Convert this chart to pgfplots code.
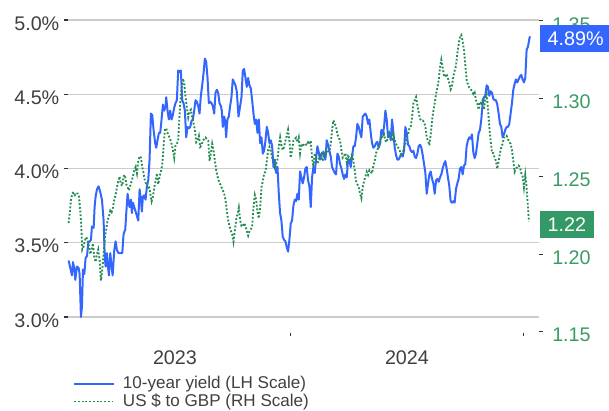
\documentclass[border=0pt]{standalone}
\usepackage{fontspec}
\setmainfont{Liberation Sans}
\usepackage{pgfplots}
\pgfplotsset{compat=1.18}
\usepackage{pgfplotstable}

\definecolor{yieldblue}{RGB}{51,102,255}
\definecolor{gbpgreen}{RGB}{38,140,84}
\definecolor{boxgreen}{RGB}{51,153,102}
\definecolor{labelgreen}{RGB}{60,155,100}
\definecolor{txt}{RGB}{64,64,64}

\newcommand{\tickfont}{\fontsize{14.8}{17}\selectfont}
\newcommand{\legfont}{\fontsize{12.8}{14}\selectfont}

% x = days since 1 Jan 2023
\pgfplotstableread{
d v
15.0 3.38
17.6 3.33
20.3 3.28
21.8 3.37
23.9 3.33
25.5 3.25
28.1 3.34
30.8 3.33
32.3 3.29
34.4 3.00
36.0 3.07
37.6 3.32
39.7 3.29
41.8 3.40
43.9 3.41
46.0 3.50
48.1 3.51
50.2 3.52
51.7 3.61
54.4 3.60
55.9 3.74
57.5 3.81
59.6 3.86
62.2 3.88
64.9 3.84
67.5 3.79
70.1 3.65
71.7 3.43
73.2 3.34
75.3 3.43
76.9 3.34
78.5 3.28
80.6 3.43
82.2 3.36
84.3 3.28
86.9 3.45
89.0 3.51
91.1 3.45
93.7 3.43
96.3 3.43
99.5 3.43
101.6 3.56
104.2 3.59
105.8 3.70
107.9 3.83
109.4 3.78
111.0 3.74
113.1 3.79
114.7 3.70
116.3 3.77
118.4 3.74
120.5 3.71
122.6 3.68
124.7 3.65
126.8 3.86
128.9 3.79
130.4 3.71
132.0 3.81
134.1 3.82
136.2 3.79
138.3 3.88
140.4 3.92
142.5 4.06
144.6 4.37
146.7 4.36
148.8 4.26
151.4 4.17
153.0 4.14
155.1 4.19
157.2 4.24
159.3 4.24
161.4 4.33
163.5 4.43
165.6 4.39
167.7 4.42
168.7 4.48
170.8 4.39
172.9 4.33
175.0 4.39
177.1 4.33
179.2 4.36
181.3 4.41
183.4 4.44
185.5 4.46
187.6 4.66
189.7 4.65
191.8 4.66
193.9 4.46
196.0 4.44
198.1 4.39
200.2 4.21
202.3 4.28
204.4 4.27
206.5 4.28
208.6 4.32
210.7 4.33
212.8 4.39
214.9 4.46
217.0 4.45
219.1 4.42
221.2 4.37
223.3 4.49
225.4 4.56
227.5 4.64
229.6 4.74
231.7 4.72
233.8 4.61
235.9 4.44
238.0 4.45
240.1 4.44
242.2 4.42
244.3 4.37
246.4 4.51
248.5 4.53
250.6 4.51
252.7 4.44
254.8 4.42
256.3 4.39
257.9 4.28
260.0 4.35
261.6 4.32
263.1 4.21
265.2 4.33
267.3 4.35
269.4 4.42
271.5 4.48
273.6 4.60
275.7 4.58
277.8 4.56
279.9 4.52
282.6 4.35
285.2 4.42
287.3 4.48
289.4 4.66
291.5 4.67
293.6 4.61
295.7 4.55
297.8 4.61
299.9 4.56
302.0 4.54
304.1 4.46
306.2 4.37
308.3 4.30
310.4 4.33
312.5 4.24
314.6 4.33
316.7 4.17
318.8 4.21
320.9 4.10
323.0 4.12
325.1 4.19
327.2 4.28
329.3 4.24
331.4 4.17
333.5 4.19
335.6 4.15
337.7 4.01
339.8 4.06
341.9 3.97
344.0 4.01
346.1 3.83
348.1 3.70
350.2 3.65
352.3 3.54
354.4 3.52
356.5 3.51
358.6 3.47
360.7 3.44
362.8 3.52
364.9 3.63
367.0 3.65
369.1 3.75
371.2 3.79
373.3 3.78
375.4 3.83
377.5 3.79
379.6 3.98
381.7 3.94
383.8 3.90
385.9 3.94
388.0 4.00
390.1 4.01
392.2 3.92
394.3 3.88
396.4 3.74
398.5 3.94
400.6 4.01
402.7 3.97
404.8 4.07
406.9 4.15
409.0 4.11
411.1 4.06
413.2 4.10
415.3 4.11
417.4 4.08
419.5 4.06
421.6 4.19
423.7 4.16
425.8 4.12
427.9 4.08
430.0 4.01
432.1 3.99
434.2 3.97
436.3 3.96
438.4 4.10
440.5 4.08
442.6 4.03
444.7 4.00
446.8 3.96
448.9 3.93
451.0 3.96
453.1 3.94
455.2 4.06
457.3 4.06
459.4 4.01
461.5 4.08
463.6 4.15
465.7 4.15
467.8 4.21
469.9 4.30
472.0 4.28
474.1 4.24
476.2 4.21
478.3 4.35
480.4 4.36
482.5 4.37
484.6 4.35
486.7 4.30
488.8 4.33
490.9 4.24
493.0 4.17
495.1 4.14
497.2 4.15
499.3 4.17
501.4 4.18
503.5 4.14
505.6 4.17
507.7 4.26
509.8 4.23
511.9 4.28
514.0 4.39
516.1 4.33
518.2 4.21
520.3 4.24
522.4 4.19
524.5 4.33
526.6 4.24
528.7 4.14
530.8 4.09
532.9 4.06
535.0 4.06
537.1 4.08
539.2 4.10
541.3 4.08
543.4 4.12
545.5 4.28
547.6 4.24
549.7 4.16
551.8 4.15
553.9 4.12
556.0 4.11
558.1 4.12
560.2 4.08
562.3 4.07
564.4 4.10
566.5 4.15
568.6 4.16
570.7 4.14
572.8 4.09
574.9 4.03
577.0 3.97
579.1 3.83
581.2 3.90
583.3 3.96
585.4 3.98
587.5 3.93
589.6 3.90
591.7 3.83
593.8 3.92
595.9 3.93
598.0 3.91
600.0 3.94
602.1 3.96
604.2 4.00
606.3 4.03
608.4 4.05
610.5 4.00
612.6 3.94
614.7 3.88
616.8 3.78
618.9 3.77
621.0 3.78
623.1 3.77
625.2 3.86
627.3 3.90
629.4 3.93
631.5 4.00
633.6 4.01
635.7 3.96
637.8 4.02
639.9 4.03
642.0 4.15
644.1 4.19
646.2 4.21
648.3 4.20
650.4 4.23
652.5 4.11
654.6 4.07
656.7 4.10
658.8 4.17
660.9 4.24
663.0 4.26
665.1 4.33
667.2 4.44
669.3 4.48
671.4 4.49
673.5 4.56
675.6 4.55
677.7 4.49
679.8 4.52
681.9 4.51
684.0 4.47
686.1 4.46
688.2 4.46
690.3 4.43
692.4 4.37
694.5 4.30
696.6 4.28
698.7 4.21
700.8 4.23
702.9 4.26
705.0 4.28
707.1 4.28
709.2 4.30
711.3 4.37
713.4 4.44
715.5 4.53
717.6 4.57
719.7 4.60
721.8 4.58
723.9 4.60
726.0 4.62
728.1 4.63
730.2 4.60
732.3 4.58
734.4 4.61
736.5 4.80
738.6 4.82
740.7 4.87
741.7 4.89
}\yieldtable

\pgfplotstableread{
d v
15.0 1.220
16.6 1.226
18.7 1.235
20.8 1.239
22.9 1.240
25.0 1.238
27.1 1.239
29.2 1.239
31.3 1.237
33.4 1.228
34.9 1.218
36.5 1.203
38.6 1.205
40.7 1.209
42.8 1.211
44.9 1.209
47.0 1.205
49.1 1.200
51.2 1.203
53.3 1.207
55.4 1.198
57.5 1.195
59.6 1.200
61.7 1.203
63.8 1.196
65.9 1.183
68.0 1.190
70.1 1.200
72.2 1.211
74.3 1.216
76.4 1.222
78.5 1.224
80.6 1.228
82.7 1.227
84.8 1.230
86.9 1.235
89.0 1.238
91.1 1.243
93.2 1.247
95.3 1.250
97.4 1.245
99.5 1.244
101.6 1.250
103.7 1.251
105.8 1.245
107.9 1.243
110.0 1.241
112.1 1.244
114.2 1.247
116.3 1.250
118.4 1.254
120.5 1.256
122.6 1.252
124.7 1.260
126.8 1.263
128.9 1.262
131.0 1.256
133.1 1.252
135.2 1.247
137.3 1.245
139.4 1.242
141.5 1.244
143.6 1.239
145.7 1.234
147.8 1.237
149.9 1.243
152.0 1.247
154.1 1.252
156.2 1.245
158.3 1.250
160.4 1.253
162.5 1.258
164.6 1.269
166.6 1.280
168.7 1.281
170.8 1.278
172.9 1.276
175.0 1.274
177.1 1.271
179.2 1.267
181.3 1.262
183.4 1.270
185.5 1.271
187.6 1.273
188.7 1.282
190.8 1.297
192.9 1.307
195.0 1.313
197.1 1.310
199.2 1.301
201.3 1.294
203.4 1.288
205.5 1.292
207.6 1.293
209.7 1.288
211.8 1.284
213.9 1.280
216.0 1.272
218.1 1.273
220.2 1.276
222.3 1.269
224.4 1.270
226.5 1.273
228.6 1.274
230.7 1.275
232.8 1.274
234.9 1.273
237.0 1.260
239.1 1.265
241.2 1.271
243.3 1.267
245.4 1.260
247.5 1.254
249.6 1.250
251.7 1.247
253.8 1.245
257.9 1.241
260.0 1.239
262.1 1.235
264.2 1.228
266.3 1.222
268.4 1.218
270.5 1.215
272.6 1.213
274.7 1.208
276.8 1.215
278.9 1.222
281.0 1.226
283.1 1.230
285.2 1.222
287.3 1.218
289.4 1.218
291.5 1.220
293.6 1.218
295.7 1.215
297.8 1.212
299.9 1.215
302.0 1.216
304.1 1.218
306.2 1.230
308.3 1.238
310.4 1.235
312.5 1.227
314.6 1.223
316.7 1.230
318.8 1.243
320.9 1.247
323.0 1.252
325.1 1.253
327.2 1.260
329.3 1.267
331.4 1.269
333.5 1.266
335.6 1.262
337.7 1.262
339.8 1.256
341.9 1.258
344.0 1.261
346.1 1.269
348.2 1.275
350.2 1.270
352.3 1.267
354.4 1.269
356.5 1.273
358.6 1.276
360.7 1.280
362.8 1.273
364.9 1.262
367.0 1.267
369.1 1.273
371.2 1.274
373.3 1.275
375.4 1.272
377.5 1.275
379.6 1.265
381.7 1.271
383.8 1.269
385.9 1.271
388.0 1.271
390.1 1.270
392.2 1.272
394.3 1.271
396.4 1.273
398.5 1.262
400.6 1.256
402.7 1.265
404.8 1.262
406.9 1.258
409.0 1.261
411.1 1.265
413.2 1.262
415.3 1.260
417.4 1.265
419.5 1.263
421.6 1.267
423.7 1.266
425.8 1.266
427.9 1.271
430.0 1.280
432.1 1.286
434.2 1.284
436.3 1.282
438.4 1.277
440.5 1.275
442.6 1.273
444.7 1.267
446.8 1.262
448.9 1.263
451.0 1.265
453.1 1.259
455.2 1.263
457.3 1.262
459.4 1.260
461.5 1.265
463.6 1.260
465.7 1.254
467.8 1.247
469.9 1.245
472.0 1.243
474.1 1.239
476.2 1.236
478.3 1.243
480.4 1.247
482.5 1.250
484.6 1.253
486.7 1.251
488.8 1.254
490.9 1.253
493.0 1.252
495.1 1.257
497.2 1.260
499.3 1.265
501.4 1.267
503.5 1.270
505.6 1.271
507.7 1.276
509.8 1.275
511.9 1.277
514.0 1.273
516.1 1.272
518.2 1.276
520.3 1.278
522.4 1.275
524.5 1.274
526.6 1.277
528.7 1.273
530.8 1.271
532.9 1.269
535.0 1.268
537.1 1.266
539.2 1.263
541.3 1.265
543.4 1.269
545.5 1.271
547.6 1.275
549.7 1.277
551.8 1.281
553.9 1.282
556.0 1.288
558.1 1.297
560.2 1.299
562.3 1.301
564.4 1.296
566.5 1.291
568.6 1.287
570.7 1.286
572.8 1.286
574.9 1.285
577.0 1.282
579.1 1.275
581.2 1.273
583.3 1.270
585.4 1.277
587.5 1.286
589.6 1.292
591.7 1.297
593.8 1.303
595.9 1.307
598.0 1.312
600.0 1.320
602.1 1.325
604.2 1.320
606.3 1.315
608.4 1.314
610.5 1.316
612.6 1.313
614.7 1.310
616.8 1.306
618.9 1.308
621.0 1.314
623.1 1.318
625.2 1.321
627.3 1.329
629.4 1.335
631.5 1.340
633.6 1.341
635.7 1.337
637.8 1.331
639.9 1.322
642.0 1.312
644.1 1.309
646.2 1.307
648.3 1.306
650.4 1.305
652.5 1.303
654.6 1.304
656.7 1.299
658.8 1.297
660.9 1.293
663.0 1.298
665.1 1.297
667.2 1.299
669.3 1.293
671.4 1.300
673.5 1.303
675.6 1.294
677.7 1.282
679.8 1.273
681.9 1.265
684.0 1.265
686.1 1.262
688.2 1.260
690.3 1.255
692.4 1.260
694.5 1.265
696.6 1.269
698.7 1.271
700.8 1.275
702.9 1.275
705.0 1.276
707.1 1.274
709.2 1.272
711.3 1.271
713.4 1.267
715.5 1.260
717.6 1.253
719.7 1.255
721.8 1.256
723.9 1.257
726.0 1.256
728.1 1.252
730.2 1.250
732.3 1.243
734.4 1.251
736.5 1.243
738.6 1.230
740.1 1.221
}\gbptable

\begin{document}
\begin{tikzpicture}
\begin{axis}[
  scale only axis, width=353.25pt, height=222.75pt,
  xmin=14, xmax=756, ymin=3, ymax=5,
  clip=false,
  axis line style={draw=none},
  ytick={3,3.5,4,4.5,5},
  ytick pos=left,
  ymajorgrids,
  major grid style={gray!40, line width=0.9pt},
  tick align=outside, major tick length=3pt,
  y tick style={black!80, line width=0.8pt},
  yticklabel={\pgfmathprintnumber[fixed,fixed zerofill,precision=1,assume math mode=true]{\tick}\%},
  yticklabel style={font=\tickfont, text=txt, yshift=-2.5pt},
  xtick={182.5,548}, xticklabels={2023,2024},
  x tick style={draw=none},
  xticklabel style={font=\tickfont, text=txt, anchor=center, yshift=-27.75pt},
  legend style={at={(0,0)}, anchor=north west, xshift=3.75pt, yshift=-43pt,
    draw=none, fill=none, inner sep=0pt, font=\legfont, text=txt,
    row sep=0pt, nodes={inner sep=1.3pt},
    /tikz/every odd column/.append style={column sep=4.5pt}},
  legend cell align=left,
  legend image code/.code={\draw[#1] (0pt,0pt) -- (30pt,0pt);},
]
\addplot[yieldblue, line width=1.5pt, line join=round] table[x=d, y=v] {\yieldtable};
\addlegendentry{10-year yield (LH Scale)}
\addlegendimage{gbpgreen, line width=1.4pt, dash pattern=on 1.4pt off 1.4pt}
\addlegendentry{US \$ to GBP (RH Scale)}
\draw[black!80, line width=0.8pt] ([yshift=-11.8pt]axis cs:365,3) -- ([yshift=-14.3pt]axis cs:365,3);
\draw[black!80, line width=0.8pt] ([yshift=-11.8pt]axis cs:731,3) -- ([yshift=-14.3pt]axis cs:731,3);
\coordinate (bluebox) at (axis cs:756,4.875);
\end{axis}

\begin{axis}[
  scale only axis, width=353.25pt, height=222.75pt,
  xmin=14, xmax=756, ymin=1.1596, ymax=1.3506,
  clip=false,
  axis x line=none, axis y line*=right,
  axis line style={draw=none},
  ytick={1.20,1.25,1.30,1.35},
  tick align=outside, major tick length=3pt,
  y tick style={black!80, line width=0.8pt},
  yticklabel style={font=\tickfont, text=labelgreen, yshift=-2.5pt, xshift=3.4pt,
    /pgf/number format/.cd, fixed, fixed zerofill, precision=2, assume math mode=true},
]
\addplot[gbpgreen, line width=1.4pt, dash pattern=on 1.4pt off 1.4pt] table[x=d, y=v] {\gbptable};
\coordinate (tick115) at (axis cs:756,1.15);
\coordinate (greenbox) at (axis cs:756,1.219);
\end{axis}

\draw[black!80, line width=0.8pt] (tick115) -- ([xshift=3pt]tick115);
\node[anchor=west, font=\tickfont, text=labelgreen, xshift=6.4pt, yshift=-2.5pt] at (tick115) {1.15};
\node[fill=yieldblue, text=white, font=\tickfont, anchor=west, xshift=0.75pt,
  inner xsep=5.6pt, inner ysep=0pt, minimum height=20.25pt] at (bluebox) {4.89\%};
\node[fill=boxgreen, text=white, font=\tickfont, anchor=west, xshift=0.75pt,
  inner xsep=5.6pt, inner ysep=0pt, minimum height=20.25pt] at (greenbox) {1.22};

\pgfresetboundingbox
\path (-51pt,-69.75pt) rectangle (405.75pt,237.75pt);
\end{tikzpicture}
\end{document}
